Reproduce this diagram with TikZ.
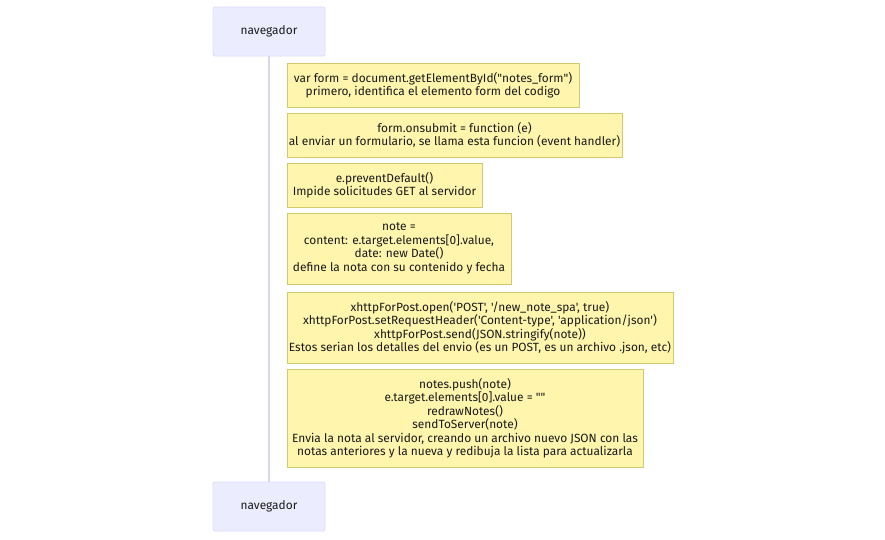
\documentclass[tikz,border=0pt]{standalone}
\usepackage{fontspec}
\newfontfamily\mfont{Fira Sans}
\definecolor{actorfill}{HTML}{ECECFF}
\definecolor{actorline}{HTML}{DCDCF8}
\definecolor{lifeline}{HTML}{DCD3F3}
\definecolor{notefill}{HTML}{FFF5AD}
\definecolor{noteline}{HTML}{D2CA6A}
\definecolor{txt}{HTML}{1A1A1A}
\begin{document}
\begin{tikzpicture}[x=1pt,y=-1pt,
  actorbox/.style={draw=actorline,fill=actorfill,line width=0.8pt,rounded corners=2pt,
    minimum width=112pt,minimum height=49pt,inner sep=0pt,font=\mfont\fontsize{11.9}{13.5}\selectfont,text=txt},
  notebox/.style={draw=noteline,fill=notefill,line width=0.8pt,inner sep=0pt,
    align=center,font=\mfont\fontsize{11.9}{13.5}\selectfont,text=txt},
  lifel/.style={draw=lifeline,line width=1.6pt}]
\useasboundingbox (0,0) rectangle (885,539);
\node[actorbox] (top) at (269,31.5) {navegador};
\node[actorbox] (bot) at (269,506.5) {navegador};
\draw[lifel] (top.south) -- (bot.north);
\node[notebox,minimum width=292pt,minimum height=44pt] (n1) at (433,85)
  {var form = document.getElementById("notes\_form")\\primero, identifica el elemento form del codigo};
\node[notebox,minimum width=335pt,minimum height=44pt] (n2) at (454.5,135)
  {form.onsubmit = function (e)\\al enviar un formulario, se llama esta funcion (event handler)};
\node[notebox,minimum width=195pt,minimum height=44pt] (n3) at (384.5,185)
  {e.preventDefault()\\Impide solicitudes GET al servidor};
\node[notebox,minimum width=224pt,minimum height=71pt] (n4) at (399,248.5)
  {note =\\content: e.target.elements[0].value,\\date: new Date()\\define la nota con su contenido y fecha};
\node[notebox,minimum width=386pt,minimum height=71pt] (n5) at (480,327.5)
  {xhttpForPost.open('POST', '/new\_note\_spa', true)\\xhttpForPost.setRequestHeader('Content-type', 'application/json')\\xhttpForPost.send(JSON.stringify(note))\\Estos serian los detalles del envio (es un POST, es un archivo .json, etc)};
\node[notebox,minimum width=356pt,minimum height=98pt] (n6) at (465,418)
  {notes.push(note)\\e.target.elements[0].value = ""\\redrawNotes()\\sendToServer(note)\\Envia la nota al servidor, creando un archivo nuevo JSON con las\\notas anteriores y la nueva y redibuja la lista para actualizarla};
\end{tikzpicture}
\end{document}
